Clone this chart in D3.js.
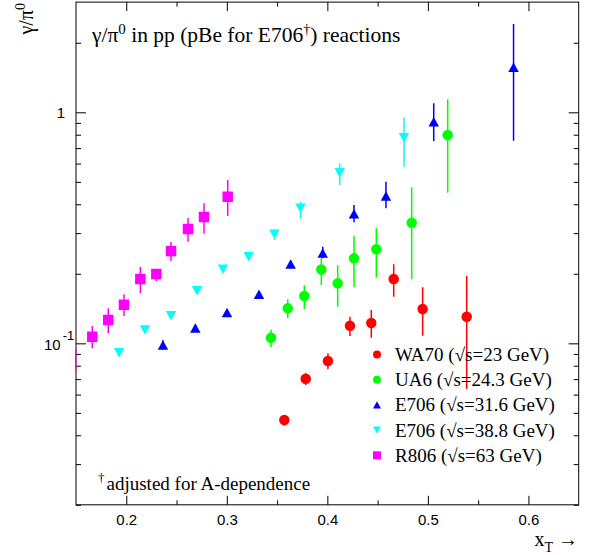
<!DOCTYPE html>
<html>
<head>
<meta charset="utf-8">
<script src="https://cdn.jsdelivr.net/npm/d3@7"></script>
<style>
  body { margin: 0; background: #fff; }
  text { fill: #000; }
</style>
</head>
<body>
<svg id="chart" width="589" height="555"></svg>
<script>
// ---- data: x_T, gamma/pi0 ratio, lower and upper ends of the error bar ----
// WA70 (sqrt(s) = 23 GeV)
const wa70X  = [0.3572, 0.3785, 0.4006, 0.4225, 0.4437, 0.4660, 0.4948, 0.5386];
const wa70Y  = [0.0466, 0.0703, 0.0838, 0.1192, 0.1224, 0.1898, 0.1407, 0.1303];
const wa70Lo = [0.0440, 0.0660, 0.0772, 0.1075, 0.1057, 0.1591, 0.1078, 0.0634];
const wa70Hi = [0.0489, 0.0742, 0.0905, 0.1303, 0.1393, 0.2198, 0.1748, 0.1956];

// UA6 (sqrt(s) = 24.3 GeV)
const ua6X  = [0.3440, 0.3606, 0.3771, 0.3940, 0.4103, 0.4265, 0.4487, 0.4839, 0.5197];
const ua6Y  = [0.1057, 0.1417, 0.1603, 0.2087, 0.1818, 0.2333, 0.2552, 0.3327, 0.7975];
const ua6Lo = [0.0961, 0.1283, 0.1407, 0.1788, 0.1440, 0.1748, 0.1923, 0.1892, 0.4486];
const ua6Hi = [0.1149, 0.1550, 0.1783, 0.2340, 0.2177, 0.2914, 0.3155, 0.4736, 1.138];

// E706 (sqrt(s) = 31.6 GeV)
const e706aX  = [0.2365, 0.2687, 0.3002, 0.3320, 0.3635, 0.3954, 0.4265, 0.4583, 0.5058, 0.5852];
const e706aY  = [0.0983, 0.1165, 0.1359, 0.1630, 0.2204, 0.2459, 0.3639, 0.4341, 0.9106, 1.566];
const e706aLo = [0.0940, 0.1130, 0.1320, 0.1580, 0.2140, 0.2333, 0.3341, 0.3841, 0.7513, 0.7535];
const e706aHi = [0.1030, 0.1200, 0.1400, 0.1680, 0.2270, 0.2619, 0.3969, 0.5006, 1.094, 2.411];

// E706 (sqrt(s) = 38.8 GeV)
const e706bX  = [0.1928, 0.2186, 0.2445, 0.2704, 0.2962, 0.3218, 0.3474, 0.3733, 0.4123, 0.4762];
const e706bY  = [0.0911, 0.1142, 0.1317, 0.1689, 0.2091, 0.2370, 0.2968, 0.3841, 0.5476, 0.7763];
const e706bLo = [0.0880, 0.1110, 0.1280, 0.1640, 0.2030, 0.2300, 0.2800, 0.3476, 0.4844, 0.5814];
const e706bHi = [0.0940, 0.1175, 0.1355, 0.1740, 0.2150, 0.2440, 0.3125, 0.4102, 0.6015, 0.9514];

// R806 (sqrt(s) = 63 GeV)
const r806X  = [0.1497, 0.1662, 0.1821, 0.1977, 0.2140, 0.2299, 0.2445, 0.2614, 0.2773, 0.3009];
const r806Y  = [0.0847, 0.1068, 0.1262, 0.1469, 0.1898, 0.1995, 0.2508, 0.3125, 0.3522, 0.4311];
const r806Lo = [0.0759, 0.0952, 0.1105, 0.1313, 0.1646, 0.1861, 0.2272, 0.2754, 0.2982, 0.3557];
const r806Hi = [0.0944, 0.1188, 0.1417, 0.1630, 0.2140, 0.2104, 0.2745, 0.3486, 0.4037, 0.5092];

// legend entries and colours
const seriesNames  = ["WA70", "UA6", "E706", "E706", "R806"];
const seriesEnergy = ["23", "24.3", "31.6", "38.8", "63"];
const seriesColors = ["#ff0000", "#00ff00", "#0000ff", "#00ffff", "#ff00ff"];
const seriesShapes = ["circle", "circle", "triangleUp", "triangleDown", "square"];

// axes
const xDomain = [0.15, 0.65];
const yDomain = [0.02, 3];
const xMajorTicks = [0.2, 0.3, 0.4, 0.5, 0.6];
const xMinorTicks = [0.25, 0.35, 0.45, 0.55];
const yMajorTicks = [0.1, 1];
const yMinorTicks = [0.02, 0.03, 0.04, 0.05, 0.06, 0.07, 0.08, 0.09,
                     0.2, 0.3, 0.4, 0.5, 0.6, 0.7, 0.8, 0.9, 2];

const seriesData = [
  [wa70X, wa70Y, wa70Lo, wa70Hi],
  [ua6X, ua6Y, ua6Lo, ua6Hi],
  [e706aX, e706aY, e706aLo, e706aHi],
  [e706bX, e706bY, e706bLo, e706bHi],
  [r806X, r806Y, r806Lo, r806Hi]
];

// ---- drawing ----
const svg = d3.select("#chart");
const frame = { left: 76, right: 578.7, top: 2.1, bottom: 504.8 };
const serif = "'Liberation Serif', 'Times New Roman', serif";
const sans = "'Liberation Sans', Arial, Helvetica, sans-serif";

const x = d3.scaleLinear().domain(xDomain).range([frame.left, frame.right]);
const y = d3.scaleLog().domain(yDomain).range([frame.bottom, frame.top]);

svg.append("rect").attr("width", 589).attr("height", 555).attr("fill", "#fff");

svg.append("defs").append("clipPath").attr("id", "plotClip")
  .append("rect")
  .attr("x", frame.left - 1).attr("y", frame.top)
  .attr("width", frame.right - frame.left + 1).attr("height", frame.bottom - frame.top);

function styleAxis(g) {
  g.select(".domain").remove();
  g.selectAll(".tick line").attr("stroke", "#000").attr("stroke-width", 1);
}

// bottom axis with labels
svg.append("g").attr("transform", `translate(0,${frame.bottom})`)
  .call(d3.axisBottom(x).tickValues(xMajorTicks).tickSize(-9).tickPadding(10)
    .tickFormat(d3.format(".1f")))
  .call(styleAxis)
  .call(g => g.selectAll("text").attr("font-family", sans).attr("font-size", 15).attr("fill", "#000"));
svg.append("g").attr("transform", `translate(0,${frame.bottom})`)
  .call(d3.axisBottom(x).tickValues(xMinorTicks).tickSize(-4.5).tickFormat(""))
  .call(styleAxis);

// top axis (ticks only)
svg.append("g").attr("transform", `translate(0,${frame.top})`)
  .call(d3.axisTop(x).tickValues(xMajorTicks).tickSize(-9).tickFormat(""))
  .call(styleAxis);
svg.append("g").attr("transform", `translate(0,${frame.top})`)
  .call(d3.axisTop(x).tickValues(xMinorTicks).tickSize(-4.5).tickFormat(""))
  .call(styleAxis);

// left axis
svg.append("g").attr("transform", `translate(${frame.left},0)`)
  .call(d3.axisLeft(y).tickValues(yMajorTicks).tickSize(-10).tickFormat(""))
  .call(styleAxis);
svg.append("g").attr("transform", `translate(${frame.left},0)`)
  .call(d3.axisLeft(y).tickValues(yMinorTicks).tickSize(-5).tickFormat(""))
  .call(styleAxis);

// right axis
svg.append("g").attr("transform", `translate(${frame.right},0)`)
  .call(d3.axisRight(y).tickValues(yMajorTicks).tickSize(-10).tickFormat(""))
  .call(styleAxis);
svg.append("g").attr("transform", `translate(${frame.right},0)`)
  .call(d3.axisRight(y).tickValues(yMinorTicks).tickSize(-5).tickFormat(""))
  .call(styleAxis);

// y tick labels: "1" and "10^-1"
svg.append("text").attr("x", 65).attr("y", y(1) + 5.5)
  .attr("text-anchor", "end").attr("font-family", sans).attr("font-size", 15).text("1");
const decLabel = svg.append("text").attr("x", 44).attr("y", y(0.1) + 7)
  .attr("font-family", sans).attr("font-size", 15);
decLabel.append("tspan").text("10");
decLabel.append("tspan").attr("dx", 2).attr("dy", -10).attr("font-size", 13).text("-1");

// frame
svg.append("rect")
  .attr("x", frame.left).attr("y", frame.top)
  .attr("width", frame.right - frame.left).attr("height", frame.bottom - frame.top)
  .attr("fill", "none").attr("stroke", "#000").attr("stroke-width", 1);

// marker shapes
function markerPath(shape, s) {
  const h = s / 2;
  if (shape === "circle") return d3.symbol(d3.symbolCircle, Math.PI * h * h)();
  if (shape === "square") return `M${-h},${-h}H${h}V${h}H${-h}Z`;
  if (shape === "triangleUp") return `M0,${-h * 0.9}L${h},${h * 0.9}L${-h},${h * 0.9}Z`;
  return `M0,${h * 0.9}L${h},${-h * 0.9}L${-h},${-h * 0.9}Z`;
}

// error bars (clipped to the frame) then markers
const plot = svg.append("g");
seriesData.forEach(([xs, ys, lo, hi], si) => {
  const color = seriesColors[si];
  const pts = xs.map((xv, i) => ({ x: xv, y: ys[i], lo: lo[i], hi: hi[i] }));
  plot.append("g").attr("clip-path", "url(#plotClip)")
    .selectAll("line").data(pts).join("line")
    .attr("x1", d => x(d.x)).attr("x2", d => x(d.x))
    .attr("y1", d => y(d.lo)).attr("y2", d => y(d.hi))
    .attr("stroke", color).attr("stroke-width", 1.5);
  plot.append("g")
    .selectAll("path").data(pts.filter(d => d.x >= xDomain[0] && d.x <= xDomain[1])).join("path")
    .attr("transform", d => `translate(${x(d.x)},${y(d.y)})`)
    .attr("d", markerPath(seriesShapes[si], 10.5))
    .attr("fill", color);
});

// title
const title = svg.append("text").attr("x", 92).attr("y", 42)
  .attr("font-family", serif).attr("font-size", 21.5);
title.append("tspan").text("γ/π");
title.append("tspan").attr("dy", -8).attr("font-size", 15).text("0");
title.append("tspan").attr("dy", 8).text(" in pp (pBe for E706");
title.append("tspan").attr("dy", -8).attr("font-size", 14).text("†");
title.append("tspan").attr("dy", 8).text(") reactions");

// legend
const legend = svg.append("g");
seriesNames.forEach((name, i) => {
  const cy = 354.5 + i * 25.2;
  legend.append("path")
    .attr("transform", `translate(377,${cy})`)
    .attr("d", markerPath(seriesShapes[i], 8))
    .attr("fill", seriesColors[i]);
  legend.append("text").attr("x", 395).attr("y", cy + 6.5)
    .attr("font-family", serif).attr("font-size", 19)
    .text(`${name} (√s=${seriesEnergy[i]} GeV)`);
});

// footnote
const note = svg.append("text").attr("x", 98).attr("y", 490)
  .attr("font-family", serif).attr("font-size", 19);
note.append("tspan").attr("dy", -8).attr("font-size", 13).text("†");
note.append("tspan").attr("dy", 8).attr("dx", 2).text("adjusted for A-dependence");

// axis titles
const yTitle = svg.append("text")
  .attr("transform", "translate(33,3) rotate(-90)")
  .attr("text-anchor", "end").attr("font-family", serif).attr("font-size", 20);
yTitle.append("tspan").text("γ/π");
yTitle.append("tspan").attr("dy", -8).attr("font-size", 14).text("0");

const xTitle = svg.append("text").attr("x", 578).attr("y", 546)
  .attr("text-anchor", "end").attr("font-family", serif).attr("font-size", 20);
xTitle.append("tspan").text("x");
xTitle.append("tspan").attr("dy", 6).attr("font-size", 14).text("T");
xTitle.append("tspan").attr("dy", -6).text(" →");
</script>
</body>
</html>
